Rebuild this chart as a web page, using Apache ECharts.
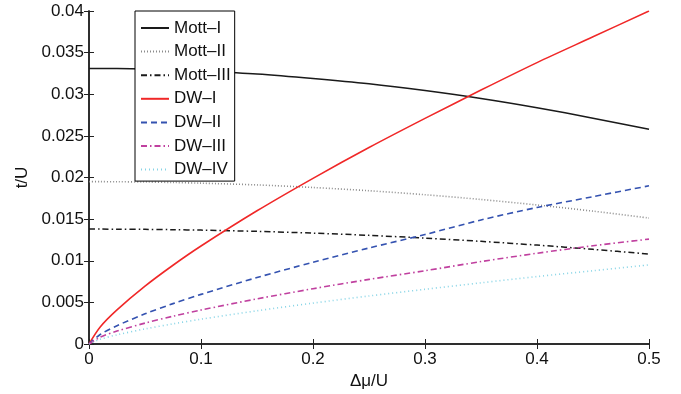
<!DOCTYPE html>
<html>
<head>
<meta charset="utf-8">
<script src="https://cdn.jsdelivr.net/npm/echarts@6/dist/echarts.min.js"></script>
<style>
  html, body { margin: 0; padding: 0; background: #fff; }
  #chart { width: 681px; height: 394px; }
</style>
</head>
<body>
<div id="chart"></div>
<script>
const deltaMu = [0, 0.01, 0.025, 0.05, 0.075, 0.1, 0.15, 0.2, 0.25, 0.3, 0.35, 0.4, 0.45, 0.5];

const mott1 = [0.0331, 0.0331, 0.03308, 0.03303, 0.03293, 0.0328, 0.03244, 0.0319, 0.03126, 0.03044, 0.02949, 0.02838, 0.02713, 0.0258];
const mott2 = [0.0195, 0.0195, 0.01949, 0.01946, 0.0194, 0.01932, 0.01911, 0.0188, 0.01841, 0.01793, 0.01736, 0.0167, 0.01596, 0.01513];
const mott3 = [0.0138, 0.0138, 0.01379, 0.01377, 0.01373, 0.01368, 0.01353, 0.01332, 0.01305, 0.01272, 0.01233, 0.01188, 0.01137, 0.0108];
const dw1 = [0, 0.00205, 0.0041, 0.00695, 0.00946, 0.01177, 0.016, 0.0199, 0.0236, 0.0271, 0.0305, 0.0338, 0.0369, 0.04];
const dw2 = [0, 0.00114, 0.0022, 0.00362, 0.00485, 0.00596, 0.00798, 0.00982, 0.01153, 0.01315, 0.0149, 0.0164, 0.0177, 0.019];
const dw3 = [0, 0.00082, 0.00155, 0.00251, 0.00334, 0.00408, 0.00542, 0.00664, 0.00776, 0.0088, 0.0099, 0.0109, 0.0118, 0.0126];
const dw4 = [0, 0.00057, 0.0011, 0.00181, 0.00242, 0.00298, 0.00399, 0.00491, 0.00577, 0.00657, 0.00735, 0.0081, 0.0088, 0.0095];

const seriesNames = ["Mott–I", "Mott–II", "Mott–III", "DW–I", "DW–II", "DW–III", "DW–IV"];
const seriesValues = [mott1, mott2, mott3, dw1, dw2, dw3, dw4];

const lineStyles = [
  { color: "#1a1a1a", width: 1.5, type: "solid" },
  { color: "#8c8c8c", width: 1.6, type: [1, 2] },
  { color: "#1a1a1a", width: 1.5, type: [6, 3, 1.5, 3] },
  { color: "#f02828", width: 1.6, type: "solid" },
  { color: "#3452b0", width: 1.6, type: [6, 4] },
  { color: "#c0409f", width: 1.6, type: [6, 3, 1.5, 3] },
  { color: "#86d4e6", width: 1.6, type: [1, 3] }
];

const font = "Liberation Sans, Arial, Helvetica, sans-serif";
const axisColor = "#222";

const chart = echarts.init(document.getElementById("chart"));

const xBase = { type: "value", min: 0, max: 0.5, interval: 0.1 };
const yBase = { type: "value", min: 0, max: 0.04, interval: 0.005 };
const lineCommon = { show: true, lineStyle: { color: axisColor, width: 1.5 } };
const tickIn = { show: true, inside: true, length: 5, lineStyle: { color: axisColor, width: 1 } };

chart.setOption({
  animation: false,
  grid: { left: 89, right: 32, top: 11, bottom: 50, outerBoundsMode: "none" },
  legend: {
    orient: "vertical",
    left: 135,
    top: 11,
    padding: [8.5, 4, 3, 5],
    itemWidth: 28,
    itemHeight: 14,
    itemGap: 6.6,
    backgroundColor: "#fff",
    borderColor: "#000",
    borderWidth: 1,
    borderRadius: 0,
    itemStyle: { opacity: 0 },
    textStyle: { fontFamily: font, fontSize: 17, color: "#111", lineHeight: 17 },
    data: seriesNames
  },
  xAxis: [
    {
      ...xBase,
      position: "bottom",
      name: "Δμ/U",
      nameLocation: "middle",
      nameGap: 28,
      nameTextStyle: { fontFamily: font, fontSize: 17, color: "#111" },
      axisLine: lineCommon,
      axisTick: tickIn,
      splitLine: { show: false },
      axisLabel: { fontFamily: font, fontSize: 17, color: "#111", margin: 7 }
    },
    {
      ...xBase,
      position: "top",
      axisLine: lineCommon,
      axisTick: tickIn,
      splitLine: { show: false },
      axisLabel: { show: false }
    }
  ],
  yAxis: [
    {
      ...yBase,
      position: "left",
      name: "t/U",
      nameLocation: "middle",
      nameGap: 56,
      nameTextStyle: { fontFamily: font, fontSize: 17, color: "#111" },
      axisLine: lineCommon,
      axisTick: tickIn,
      splitLine: { show: false },
      axisLabel: { fontFamily: font, fontSize: 17, color: "#111", margin: 5 }
    },
    {
      ...yBase,
      position: "right",
      axisLine: lineCommon,
      axisTick: tickIn,
      splitLine: { show: false },
      axisLabel: { show: false }
    }
  ],
  series: seriesNames.map((name, i) => ({
    name: name,
    type: "line",
    xAxisIndex: 0,
    yAxisIndex: 0,
    symbol: "none",
    showSymbol: false,
    smooth: 0.3,
    lineStyle: lineStyles[i],
    itemStyle: { color: lineStyles[i].color },
    data: deltaMu.map((x, j) => [x, seriesValues[i][j]])
  }))
});
</script>
</body>
</html>
